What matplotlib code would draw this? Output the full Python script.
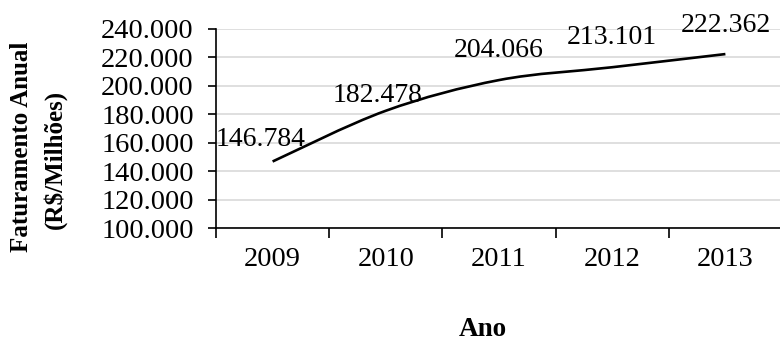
import matplotlib
matplotlib.use('Agg')
import matplotlib.pyplot as plt
from matplotlib.path import Path
from matplotlib.patches import PathPatch
import numpy as np

plt.rcParams['font.family'] = ['Liberation Serif', 'DejaVu Serif']

# dados
anos = ['2009', '2010', '2011', '2012', '2013']
faturamento = [146.784, 182.478, 204.066, 213.101, 222.362]
rotulos = ['146.784', '182.478', '204.066', '213.101', '222.362']
yticks = [100, 120, 140, 160, 180, 200, 220, 240]

fig = plt.figure(figsize=(7.8, 3.42), dpi=100)
ax = fig.add_axes([216 / 780, 114 / 342, 566 / 780, 199 / 342])

x = np.arange(len(anos))
y = np.array(faturamento)

# linha suavizada estilo Excel (Bezier com tangentes de Catmull-Rom)
verts = [(x[0], y[0])]
codes = [Path.MOVETO]
n = len(x)
for i in range(n - 1):
    p0 = np.array([x[max(i - 1, 0)], y[max(i - 1, 0)]])
    p1 = np.array([x[i], y[i]])
    p2 = np.array([x[i + 1], y[i + 1]])
    p3 = np.array([x[min(i + 2, n - 1)], y[min(i + 2, n - 1)]])
    c1 = p1 + (p2 - p0) / 6
    c2 = p2 - (p3 - p1) / 6
    verts += [tuple(c1), tuple(c2), tuple(p2)]
    codes += [Path.CURVE4] * 3
ax.add_patch(PathPatch(Path(verts, codes), facecolor='none',
                       edgecolor='black', linewidth=1.9, capstyle='butt', zorder=3))

ax.set_xlim(-0.5, 4.5)
ax.set_ylim(100, 240)
ax.set_yticks(yticks)
ax.set_yticklabels([f'{v}.000' for v in yticks])
ax.set_xticks(np.arange(-0.5, 4.6, 1))
ax.set_xticklabels([])
ax.set_xticks(x, minor=True)
ax.set_xticklabels(anos, minor=True)
ax.tick_params(axis='x', which='major', direction='out', length=7, width=1.2)
ax.tick_params(axis='x', which='minor', length=0, pad=14, labelsize=20.5)
ax.tick_params(axis='y', direction='out', length=6, width=1.2, pad=10, labelsize=20.5)

ax.grid(axis='y', color='#d9d9d9', linewidth=1.2)
ax.set_axisbelow(True)
for s in ['top', 'right']:
    ax.spines[s].set_visible(False)
for s in ['left', 'bottom']:
    ax.spines[s].set_linewidth(1.2)

# rótulos de dados
offsets = [(-12, 22), (-8, 15), (0, 30), (0, 30), (0, 29)]
for xi, yi, lab, off in zip(x, y, rotulos, offsets):
    ax.annotate(lab, xy=(xi, yi), xytext=off, textcoords='offset pixels',
                ha='center', va='center', fontsize=20, annotation_clip=False)

fig.text(22 / 780, 1 - 147 / 342, 'Faturamento Anual', rotation=90,
         ha='center', va='center', fontsize=18, fontweight='bold')
fig.text(55 / 780, 1 - 159 / 342, '(R$/Milhões)', rotation=90,
         ha='center', va='center', fontsize=18, fontweight='bold')
fig.text(483 / 780, 1 - 330 / 342, 'Ano', ha='center', va='center',
         fontsize=19.5, fontweight='bold')

fig.savefig('out.png', dpi=100)
